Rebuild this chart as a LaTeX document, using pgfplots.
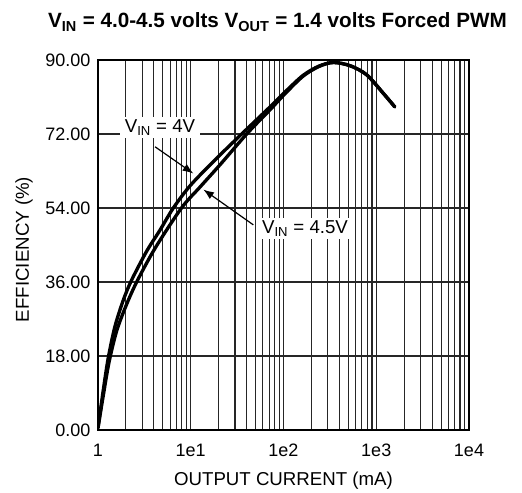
\documentclass[border=0pt]{standalone}
\usepackage{fontspec}
\setmainfont{Liberation Sans}
\usepackage{pgfplots}
\pgfplotsset{compat=1.18}
\usetikzlibrary{arrows.meta}
\begin{document}
\begin{tikzpicture}
\useasboundingbox (-73.5pt,-47.25pt) rectangle (318pt,322.5pt);
\begin{axis}[
 at={(0pt,0pt)}, anchor=south west,
 scale only axis, width=278.25pt, height=277.5pt,
 xmode=log, xmin=1, xmax=10000, ymin=0, ymax=90,
 xtick={1,10,100,1000,10000}, xticklabels={1,1e1,1e2,1e3,1e4},
 ytick={0,18,36,54,72,90}, yticklabels={0.00,18.00,36.00,54.00,72.00,90.00},
 xmajorgrids, xminorgrids, ymajorgrids,
 major tick length=0pt, minor tick length=0pt,
 grid style={black!85, line width=0.8pt},
 minor grid style={black!85, line width=0.8pt},
 major grid style={black!85, line width=0.8pt},
 axis line style={line width=1.2pt},
 tick label style={font=\fontsize{13.5}{16}\selectfont},
 label style={font=\fontsize{14}{17}\selectfont},
 xlabel={OUTPUT CURRENT (mA)}, ylabel={EFFICIENCY (\%)},
 xlabel style={at={(axis description cs:0.5,-0.138)}, anchor=center},
 ylabel style={at={(axis description cs:-0.1995,0.488)}, anchor=center},
 title={V\textsubscript{IN} = 4.0-4.5 volts V\textsubscript{OUT} = 1.4 volts Forced PWM},
 title style={at={(axis description cs:0.4838,1.081)}, anchor=center, font=\bfseries\fontsize{15.5}{18}\selectfont},
 yticklabel style={anchor=east, inner sep=0pt, xshift=-5.5pt},
 xticklabel style={anchor=center, yshift=-15pt},
]
% V_IN = 4V
\addplot[black, line width=2.5pt, smooth, line cap=round] coordinates {
 (1,0.5) (1.140,9.7) (1.291,17.6) (1.524,25.2) (1.875,31.6) (2.307,36.5)
 (3.350,43.5) (4.656,48.6) (6.486,54) (10,59.6) (19.05,66.1) (35.40,72)
 (71.61,78.6) (108.1,82.6) (163.3,86.3) (239.9,88.5) (344.4,89.4)
 (524.8,88.6) (788.8,86.4) (1191,81.9) (1585,78.6)
};
% V_IN = 4.5V
\addplot[black, line width=2.5pt, smooth, line cap=round] coordinates {
 (1,0.5) (1.148,8.8) (1.318,16.6) (1.585,24) (1.995,30.1) (2.612,36)
 (4.121,44.2) (7.943,54) (12.59,59.1) (20.65,64.5) (40.09,72)
 (71.61,77.9) (108.1,82.2) (163.3,86.1) (239.9,88.4) (344.4,89.4)
 (524.8,88.6) (788.8,86.4) (1191,81.9) (1585,78.6)
};
\node[fill=white, inner xsep=4pt, inner ysep=2pt, font=\fontsize{14}{17}\selectfont] at (axis cs:4.66,73.5) {V\textsubscript{IN} = 4V};
\node[fill=white, inner xsep=4pt, inner ysep=2pt, font=\fontsize{14}{17}\selectfont] at (axis cs:170.6,49.1) {V\textsubscript{IN} = 4.5V};
\draw[line width=0.9pt, -{Latex[length=8pt,width=6pt]}] (axis cs:4.12,68.9) -- (axis cs:10.66,62.4);
\draw[line width=0.9pt, -{Latex[length=8pt,width=6pt]}] (axis cs:47.3,49.9) -- (axis cs:13.66,58.5);
\end{axis}
\end{tikzpicture}
\end{document}
